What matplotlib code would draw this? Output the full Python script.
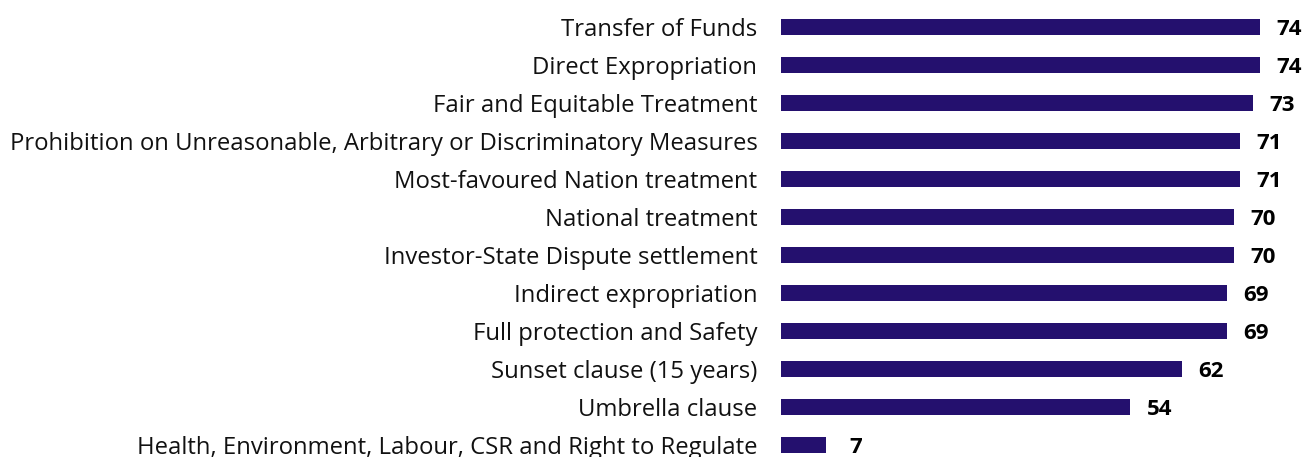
import matplotlib.pyplot as plt

categories = [
    "Transfer of Funds",
    "Direct Expropriation",
    "Fair and Equitable Treatment",
    "Prohibition on Unreasonable, Arbitrary or Discriminatory Measures",
    "Most-favoured Nation treatment",
    "National treatment",
    "Investor-State Dispute settlement",
    "Indirect expropriation",
    "Full protection and Safety",
    "Sunset clause (15 years)",
    "Umbrella clause",
    "Health, Environment, Labour, CSR and Right to Regulate",
]
values = [74, 74, 73, 71, 71, 70, 70, 69, 69, 62, 54, 7]

plt.rcParams['font.family'] = ['Open Sans', 'DejaVu Sans']

fig = plt.figure(figsize=(13.03, 4.57), dpi=100)
ax = fig.add_axes([781 / 1303, 0, 1 - 781 / 1303, 1])

pos = list(range(len(categories)))
ax.barh(pos, values, height=0.42, color='#24106e')

ax.set_xlim(0, 80.7)
ax.set_ylim(11.32, -0.72)

for y, v in zip(pos, values):
    ax.annotate(str(v), (v, y), xytext=(21, 0), textcoords='offset points',
                ha='center', va='center_baseline', fontsize=16, fontweight='bold',
                color='black')

ax.set_yticks(pos)
ax.set_yticklabels(categories, fontsize=17.2, color='#111111')
ax.tick_params(axis='y', length=0, pad=17)
ax.set_xticks([])
for s in ax.spines.values():
    s.set_visible(False)

fig.savefig('out.png', dpi=100)
